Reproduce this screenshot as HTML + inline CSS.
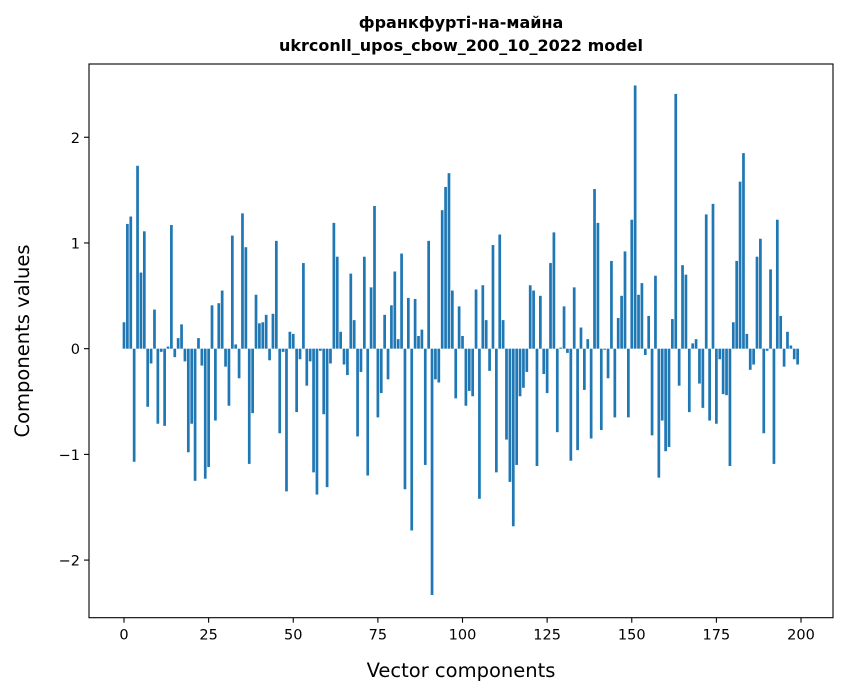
<!DOCTYPE html>
<html><head><meta charset="utf-8"><style>
html,body{margin:0;padding:0;background:#fff;}
svg{display:block;font-family:"DejaVu Sans","Liberation Sans",sans-serif;}
</style></head><body>
<svg id="chart" width="847" height="696" viewBox="0 0 847 696" xmlns="http://www.w3.org/2000/svg">
<rect x="0" y="0" width="847" height="696" fill="#fff"/>
<text x="461" y="28" text-anchor="middle" font-size="16" font-weight="bold">франкфурті-на-майна</text>
<text x="461" y="51" text-anchor="middle" font-size="16" font-weight="bold">ukrconll_upos_cbow_200_10_2022 model</text>
<g id="bars"></g>
<g id="xticks"></g>
<g id="yticks"></g>
<rect x="89" y="64" width="744" height="553.7" fill="none" stroke="#000" stroke-width="1.1"/>
<text x="461" y="677" text-anchor="middle" font-size="19.5">Vector components</text>
<text transform="translate(29,341) rotate(-90)" text-anchor="middle" font-size="19.5">Components values</text>
</svg>
<script>
const values = [0.25,1.18,1.25,-1.07,1.73,0.72,1.11,-0.55,-0.14,0.37,
-0.71,-0.03,-0.73,0.02,1.17,-0.08,0.10,0.23,-0.12,-0.98,
-0.71,-1.25,0.10,-0.16,-1.23,-1.12,0.41,-0.68,0.43,0.55,
-0.17,-0.54,1.07,0.04,-0.28,1.28,0.96,-1.09,-0.61,0.51,
0.24,0.25,0.32,-0.11,0.33,1.02,-0.80,-0.03,-1.35,0.16,
0.14,-0.60,-0.10,0.81,-0.35,-0.12,-1.17,-1.38,-0.02,-0.62,
-1.31,-0.14,1.19,0.87,0.16,-0.15,-0.25,0.71,0.27,-0.83,
-0.22,0.87,-1.20,0.58,1.35,-0.65,-0.42,0.32,-0.29,0.41,
0.73,0.09,0.90,-1.33,0.48,-1.72,0.47,0.12,0.18,-1.10,
1.02,-2.33,-0.29,-0.32,1.31,1.53,1.66,0.55,-0.47,0.40,
0.12,-0.54,-0.40,-0.45,0.56,-1.42,0.60,0.27,-0.21,0.98,
-1.17,1.08,0.27,-0.86,-1.26,-1.68,-1.10,-0.45,-0.37,-0.22,
0.60,0.55,-1.11,0.50,-0.24,-0.42,0.81,1.10,-0.79,0.01,
0.40,-0.04,-1.06,0.58,-0.96,0.20,-0.39,0.09,-0.85,1.51,
1.19,-0.77,-0.01,-0.28,0.83,-0.65,0.29,0.50,0.92,-0.65,
1.22,2.49,0.51,0.62,-0.06,0.31,-0.82,0.69,-1.22,-0.68,
-0.97,-0.93,0.28,2.41,-0.35,0.79,0.70,-0.60,0.05,0.09,
-0.33,-0.56,1.27,-0.68,1.37,-0.71,-0.10,-0.43,-0.44,-1.11,
0.25,0.83,1.58,1.85,0.14,-0.20,-0.15,0.87,1.04,-0.80,
-0.02,0.75,-1.09,1.22,0.31,-0.17,0.16,0.03,-0.10,-0.15];
const xTickValues = [0,25,50,75,100,125,150,175,200];
const yTickValues = [-2,-1,0,1,2];
const yTickLabels = ["\u22122","\u22121","0","1","2"];

const NS="http://www.w3.org/2000/svg";
const X0=89,X1=833,Y0=64,Y1=617.7;
const xMin=-10.34,xMax=209.45,yMin=-2.545,yMax=2.693;
function xs(v){return X0+(v-xMin)/(xMax-xMin)*(X1-X0);}
function ys(v){return Y1-(v-yMin)/(yMax-yMin)*(Y1-Y0);}
const barsG=document.getElementById('bars');
const bw=xs(0.8)-xs(0);
values.forEach((v,i)=>{
  const r=document.createElementNS(NS,'rect');
  
  
  const top=ys(Math.max(v,0)),bot=ys(Math.min(v,0));
  r.setAttribute('x',xs(i)-bw/2);
  r.setAttribute('y',top);
  r.setAttribute('width',bw);
  r.setAttribute('height',Math.max(bot-top,0.01));
  r.setAttribute('fill','#1f77b4');
  barsG.appendChild(r);
});
const xt=document.getElementById('xticks');
xTickValues.forEach(v=>{
  const x=xs(v);
  const l=document.createElementNS(NS,'line');
  
  
  l.setAttribute('x1',x);l.setAttribute('x2',x);l.setAttribute('y1',Y1);l.setAttribute('y2',Y1+5);
  l.setAttribute('stroke','#000');l.setAttribute('stroke-width','1.1');
  xt.appendChild(l);
  const t=document.createElementNS(NS,'text');
  
  
  t.setAttribute('x',x);t.setAttribute('y',Y1+22);
  t.setAttribute('text-anchor','middle');t.setAttribute('font-size','14.5');
  t.textContent=String(v);
  xt.appendChild(t);
});
const yt=document.getElementById('yticks');
yTickValues.forEach((v,i)=>{
  const y=ys(v);
  const l=document.createElementNS(NS,'line');
  
  
  l.setAttribute('x1',X0-5);l.setAttribute('x2',X0);l.setAttribute('y1',y);l.setAttribute('y2',y);
  l.setAttribute('stroke','#000');l.setAttribute('stroke-width','1.1');
  yt.appendChild(l);
  const t=document.createElementNS(NS,'text');
  
  
  t.setAttribute('x',X0-9);t.setAttribute('y',y+5.5);
  t.setAttribute('text-anchor','end');t.setAttribute('font-size','14.5');
  t.textContent=yTickLabels[i];
  yt.appendChild(t);
});
</script>
</body></html>
